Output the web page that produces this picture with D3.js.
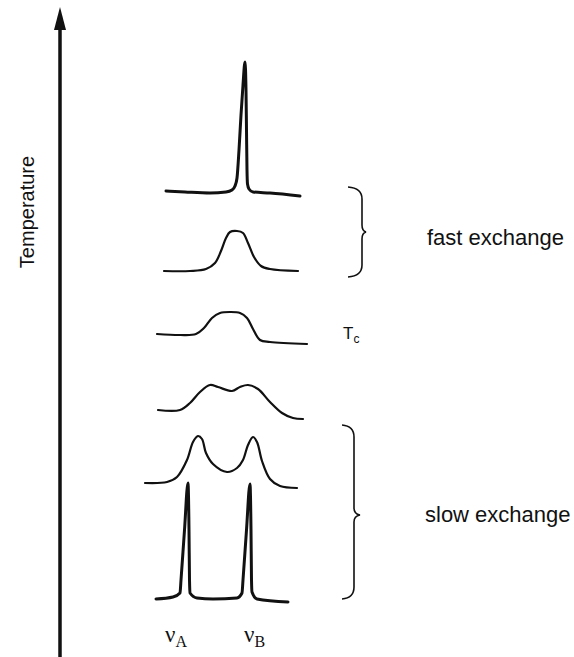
<!DOCTYPE html>
<html>
<head>
<meta charset="utf-8">
<script src="https://cdn.jsdelivr.net/npm/d3@7"></script>
<style>
  html, body { margin: 0; padding: 0; background: #fff; }
  svg { display: block; }
</style>
</head>
<body>
<div id="chart"></div>
<script>
// ---- data (frequency units, signal height units) ----
// each spectrum: [frequency, height] pairs (height measured upward from the bottom)
const spectrumFastSharp = [
  [26,466],[45,465],[70,464],[86,465],[92,467],[95,471],[97,479],[99,507],[101,542],
  [103,572],[105,595],[106,567],[106.5,527],[107,487],[107.5,473],[109,468],[113,465],
  [130,464],[160,461]
];
const spectrumFast = [
  [24,386],[50,386],[66,388],[75,394],[81,406],[86,419],[90,425],[97,426],[103,424],
  [108,414],[114,400],[121,391],[130,388],[158,386]
];
const spectrumCoalescence = [
  [17,323],[40,322],[56,323],[64,329],[72,339],[80,344],[90,345],[100,344],[107,339],
  [113,328],[120,317],[130,315],[167,313]
];
const spectrumBroadDoublet = [
  [18,247],[40,247],[50,254],[60,265],[70,272],[78,270],[92,266],[100,270],[108,272],
  [118,268],[130,255],[142,244],[153,239],[163,238]
];
const spectrumSlowBroad = [
  [5,174],[27,175],[37,180],[47,197],[53,215],[58,221],[62,218],[66,204],[73,193],
  [87,185],[97,189],[103,197],[108,212],[113,220],[117,215],[122,196],[130,178],
  [140,171],[157,169]
];
const spectrumSlowSharp = [
  [16,58],[33,60],[40,64],[41,77],[44.5,127],[48,174],[49,127],[49.5,77],[50,64],
  [57,59],[73,58],[97,59],[102,64],[103,77],[106.5,127],[110,173],[111,127],[111.5,77],
  [112,65],[117,58],[148,55]
];
const spectra = [
  spectrumFastSharp, spectrumFast, spectrumCoalescence,
  spectrumBroadDoublet, spectrumSlowBroad, spectrumSlowSharp
];
const spectrumWeights = [3, 2.2, 2.2, 2.2, 2.2, 3];
const spectrumSharp = [true, false, false, false, false, true];

const axisLabel = "Temperature";
const regimeLabels = ["fast exchange", "slow exchange"];
const coalescenceLabel = ["T", "c"];
const lineLabels = [["ν", "A", 25], ["ν", "B", 104]];   // [symbol, subscript, frequency]
// braces: [top, tip, bottom] in height units
const braceFast = [470, 425, 380];
const braceSlow = [232, 142, 58];

// ---- layout ----
const W = 574, H = 657;
const svg = d3.select("#chart").append("svg").attr("width", W).attr("height", H);

const x = d3.scaleLinear().domain([0, 170]).range([140, 310]);
const y = d3.scaleLinear().domain([0, 657]).range([657, 0]);

// temperature axis with arrow
const axisX = 60;
svg.append("line")
  .attr("x1", axisX).attr("x2", axisX)
  .attr("y1", H).attr("y2", 24)
  .attr("stroke", "#111").attr("stroke-width", 3.5);
svg.append("path")
  .attr("d", `M${axisX},7 L${axisX - 6},30 L${axisX + 6},30 Z`)
  .attr("fill", "#111");
svg.append("text")
  .attr("transform", `translate(34,212) rotate(-90)`)
  .attr("text-anchor", "middle")
  .attr("font-family", "Liberation Sans, Arial, sans-serif")
  .attr("font-size", 20)
  .attr("fill", "#111")
  .text(axisLabel);

// spectra
const sharpLine = d3.line()
  .x(d => x(d[0])).y(d => y(d[1]))
  .curve(d3.curveMonotoneX);
const smoothLine = d3.line()
  .x(d => x(d[0])).y(d => y(d[1]))
  .curve(d3.curveCatmullRom.alpha(0.5));

svg.append("g").selectAll("path")
  .data(spectra)
  .join("path")
  .attr("d", (d, i) => spectrumSharp[i] ? sharpLine(d) : smoothLine(d))
  .attr("fill", "none")
  .attr("stroke", "#111")
  .attr("stroke-width", (d, i) => spectrumWeights[i])
  .attr("stroke-linejoin", "round")
  .attr("stroke-linecap", "round");

// braces
function brace(xv, xEnd, xTip, b) {
  const t = y(b[0]), m = y(b[1]), bt = y(b[2]);
  const p = d3.path();
  p.moveTo(xEnd, t);
  p.quadraticCurveTo(xv, t + 1, xv, t + 12);
  p.lineTo(xv, m - 7);
  p.quadraticCurveTo(xv, m - 1, xTip, m);
  p.quadraticCurveTo(xv, m + 1, xv, m + 7);
  p.lineTo(xv, bt - 12);
  p.quadraticCurveTo(xv, bt - 1, xEnd, bt);
  return p.toString();
}
svg.append("path").attr("d", brace(362, 348, 366, braceFast))
  .attr("fill", "none").attr("stroke", "#111").attr("stroke-width", 1.6);
svg.append("path").attr("d", brace(354, 342, 360, braceSlow))
  .attr("fill", "none").attr("stroke", "#111").attr("stroke-width", 1.6);

// labels
const sans = "Liberation Sans, Arial, sans-serif";
svg.append("text").attr("x", 427).attr("y", 245)
  .attr("font-family", sans).attr("font-size", 22).attr("fill", "#111")
  .text(regimeLabels[0]);
svg.append("text").attr("x", 425).attr("y", 522)
  .attr("font-family", sans).attr("font-size", 22).attr("fill", "#111")
  .text(regimeLabels[1]);

const tc = svg.append("text").attr("x", 343).attr("y", 339)
  .attr("font-family", sans).attr("font-size", 17).attr("fill", "#111");
tc.append("tspan").text(coalescenceLabel[0]);
tc.append("tspan").attr("font-size", 12).attr("dy", 4).text(coalescenceLabel[1]);

lineLabels.forEach(([sym, sub, f]) => {
  const t = svg.append("text")
    .attr("x", x(f)).attr("y", 642)
    .attr("font-family", "Liberation Serif, Times New Roman, serif")
    .attr("font-size", 23).attr("fill", "#111");
  t.append("tspan").text(sym);
  t.append("tspan").attr("font-size", 16).attr("dy", 5).text(sub);
});
</script>
</body>
</html>
